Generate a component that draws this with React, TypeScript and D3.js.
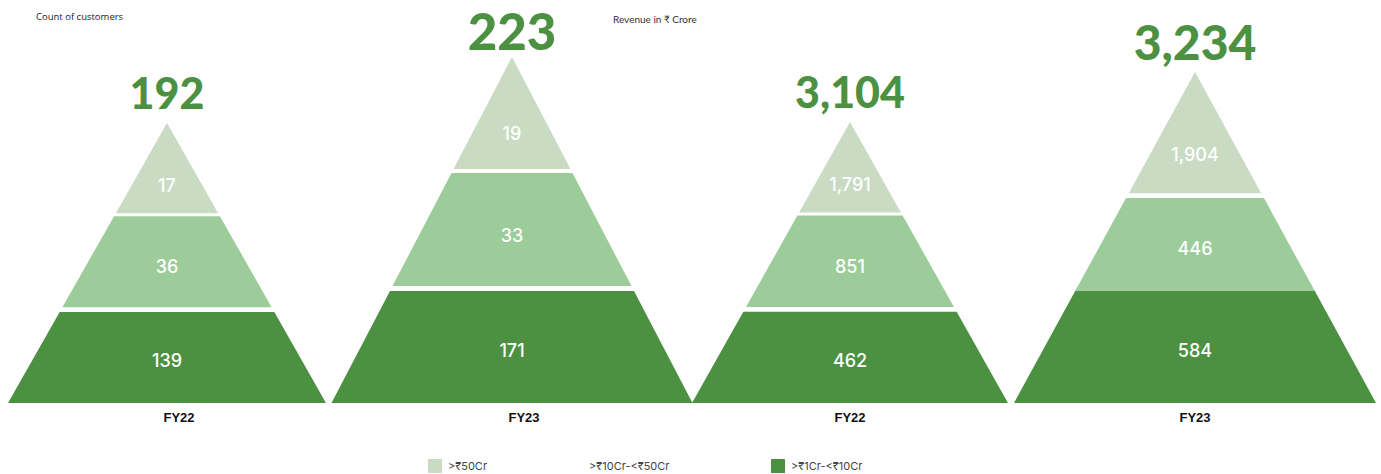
import React from 'react';
import * as d3 from 'd3';

// Chart data
const panelTitles = ['Count of customers', 'Revenue in ₹ Crore'];
const years = ['FY22', 'FY23', 'FY22', 'FY23'];
const totals = [192, 223, 3104, 3234];
const above50Cr = [17, 19, 1791, 1904];
const from10To50Cr = [36, 33, 851, 446];
const from1To10Cr = [139, 171, 462, 584];
const tierNames = ['>₹50Cr', '>₹10Cr-<₹50Cr', '>₹1Cr-<₹10Cr'];

// Layout (kept apart from the data)
const width = 1381;
const height = 474;
const baseY = 403;
const centers = [167, 512, 850, 1195];
const apexY = [123, 57, 122, 72];
const halfBase = [159, 180.5, 158, 181];
const totalSize = [43, 51, 43, 48];
const totalBaseline = [109, 50, 108, 60];
const yearDx = [12, 12, 0, 0];
// band edges as a share of pyramid height: [top end, mid start, mid end, bottom start]
const bandCuts = [
  [0.322, 0.333, 0.658, 0.675],
  [0.324, 0.335, 0.662, 0.676],
  [0.322, 0.333, 0.658, 0.675],
  [0.366, 0.381, 0.662, 0.662],
];
const colors = ['#c9dcc3', '#9ccc99', '#4c9142'];
const green = '#4c9142';

const fmt = d3.format(',');

function Pyramid({ i, cx }: { i: number; cx: number }) {
  // fraction of height -> y, y -> half width
  const yScale = d3.scaleLinear().domain([0, 1]).range([apexY[i], baseY]);
  const wScale = d3.scaleLinear().domain([apexY[i], baseY]).range([0, halfBase[i]]);
  const cuts = bandCuts[i];
  const bands = [
    { from: 0, to: cuts[0], value: above50Cr[i] },
    { from: cuts[1], to: cuts[2], value: from10To50Cr[i] },
    { from: cuts[3], to: 1, value: from1To10Cr[i] },
  ];
  const line = d3.line<[number, number]>();

  return (
    <g>
      {bands.map((b, k) => {
        const y0 = yScale(b.from);
        const y1 = yScale(b.to);
        const a = wScale(y0);
        const c = wScale(y1);
        const pts: [number, number][] = [
          [cx - a, y0], [cx + a, y0], [cx + c, y1], [cx - c, y1],
        ];
        // area centroid of the trapezoid
        const cy = y0 + ((y1 - y0) * (a + 2 * c)) / (3 * (a + c));
        return (
          <g key={k}>
            <path d={line(pts) + 'Z'} fill={colors[k]} />
            <text
              x={cx}
              y={cy + (k === 0 ? 2 : 0)}
              dy="0.36em"
              textAnchor="middle"
              fill="#fff"
              fontFamily="Inter, 'Noto Sans', sans-serif"
              fontWeight={500}
              fontSize={18}
            >
              {fmt(b.value)}
            </text>
          </g>
        );
      })}
      <text
        x={cx}
        y={totalBaseline[i]}
        textAnchor="middle"
        fill={green}
        fontFamily="Lato, 'Open Sans', sans-serif"
        fontWeight={900}
        fontSize={totalSize[i]}
      >
        {fmt(totals[i])}
      </text>
      <text
        x={cx + yearDx[i]}
        y={422}
        textAnchor="middle"
        fill="#111"
        fontFamily="'Liberation Sans', Arial, sans-serif"
        fontWeight={700}
        fontSize={13}
      >
        {years[i]}
      </text>
    </g>
  );
}

export default function App() {
  const xScale = d3.scaleOrdinal<number, number>().domain(d3.range(years.length)).range(centers);
  const legendX = [428, 569, 771];

  return (
    <svg
      width={width}
      height={height}
      viewBox={`0 0 ${width} ${height}`}
      style={{ position: 'absolute', left: 0, top: 0, background: '#fff' }}
    >
      <text x={36} y={20} fontFamily="'Open Sans', sans-serif" fontSize={9.5} fill="#222">
        {panelTitles[0]}
      </text>
      <text x={613} y={23} fontFamily="Lato, 'Noto Sans', sans-serif" fontSize={10} fill="#333">
        {panelTitles[1]}
      </text>

      {years.map((_, i) => (
        <Pyramid key={i} i={i} cx={xScale(i)} />
      ))}

      {/* Legend - middle swatch is blank in the original */}
      {tierNames.map((name, k) => (
        <g key={name} transform={`translate(${legendX[k]}, 459)`}>
          {k !== 1 && <rect width={14} height={14} fill={colors[k]} />}
          <text
            x={20}
            y={11}
            fontFamily="Inter, 'Noto Sans', sans-serif"
            fontSize={11}
            fill="#444"
          >
            {name}
          </text>
        </g>
      ))}
    </svg>
  );
}
